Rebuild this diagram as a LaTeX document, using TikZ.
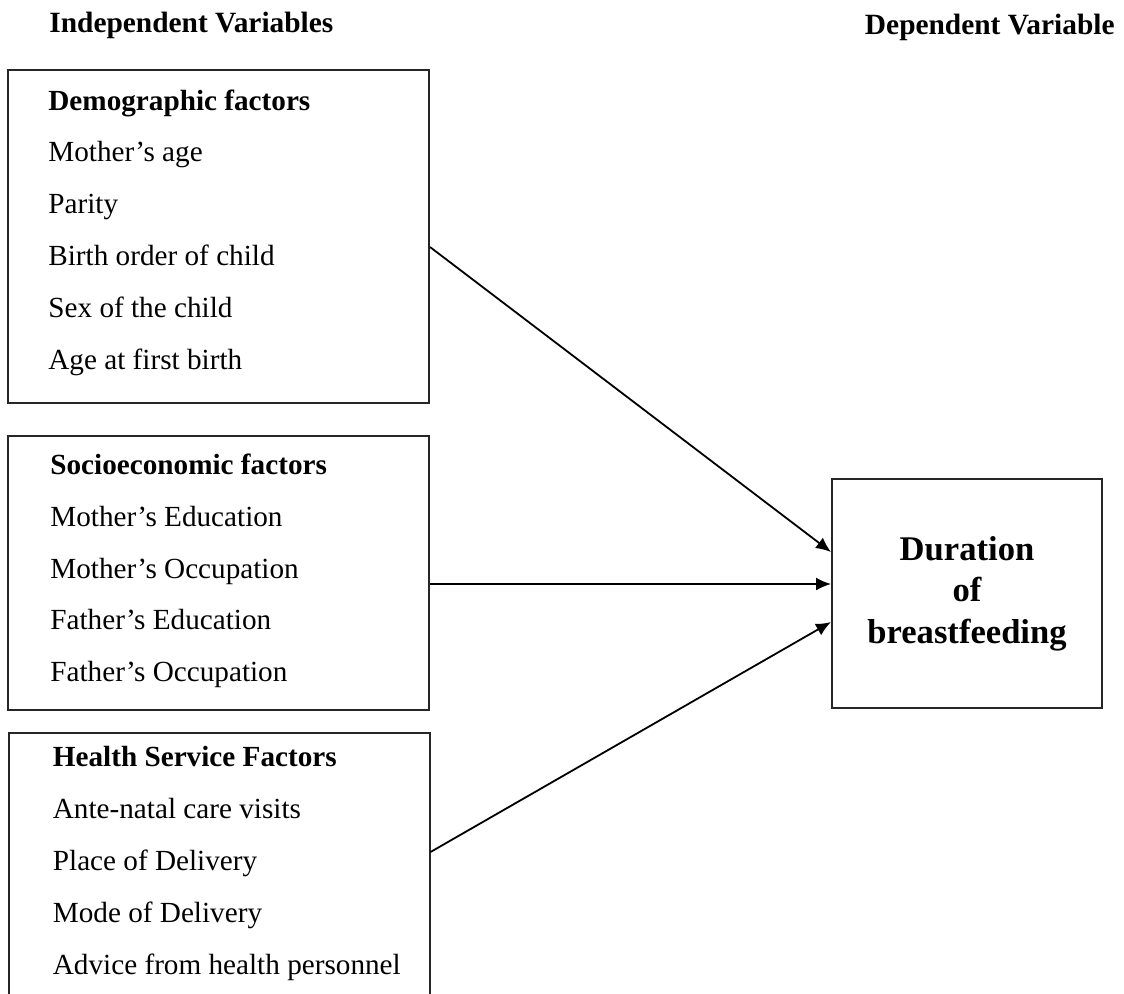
\documentclass[tikz,border=0pt]{standalone}
\usepackage{fontspec}
\setmainfont{Liberation Serif}
\usetikzlibrary{positioning,arrows.meta}

\tikzset{
  factorbox/.style={draw=black!85, line width=1pt, rectangle, minimum width=210.5pt, inner sep=0pt},
  itemlist/.style={align=left, inner sep=0pt, font=\fontsize{14.6}{25.9}\selectfont},
  heading/.style={inner sep=0pt, font=\fontsize{14.7}{17}\selectfont\bfseries},
  outcome/.style={draw=black!85, line width=1pt, minimum width=135pt, minimum height=114.5pt,
    align=center, font=\fontsize{17.3}{20.8}\selectfont\bfseries},
}

\begin{document}
\begin{tikzpicture}[x=0.5pt, y=-0.5pt, >={Latex[length=7.5pt,width=6.5pt]}]
\clip (0,0) rectangle (1124,993);

% headings
\node[heading, anchor=west] (indep) at (49,25) {Independent Variables};
\node[heading, anchor=east] (dep) at (1115,27) {Dependent Variable};

% boxes
\node[factorbox, minimum height=166.5pt] (demo) at (218.5,236.5) {};
\node[factorbox, minimum height=137pt] (socio) at (218.5,573) {};
\node[factorbox, minimum height=132pt] (health) at (219,865) {};
\node[outcome] (dur) at (967,593.5) {Duration\\of\\breastfeeding};

% factor lists
\node[itemlist, right=20.5pt of demo.west, yshift=2pt] (demolist) {\textbf{Demographic factors}\\
  Mother’s age\\ Parity\\ Birth order of child\\ Sex of the child\\ Age at first birth};
\node[itemlist, right=21.5pt of socio.west, yshift=1pt] (sociolist) {\textbf{Socioeconomic factors}\\
  Mother’s Education\\ Mother’s Occupation\\ Father’s Education\\ Father’s Occupation};
\node[itemlist, right=22.5pt of health.west, yshift=0.75pt] (healthlist) {\textbf{Health Service Factors}\\
  Ante-natal care visits\\ Place of Delivery\\ Mode of Delivery\\ Advice from health personnel};

\draw[line width=0.9pt]
	([yshift=-5.25pt]demo.east) edge[->] ([yshift=20.75pt]dur.west)
	([yshift=-5.5pt]socio.east) edge[->] ([yshift=4.75pt]dur.west)
	([yshift=6.5pt]health.east) edge[->] ([yshift=-14.25pt]dur.west)
;
\end{tikzpicture}
\end{document}
